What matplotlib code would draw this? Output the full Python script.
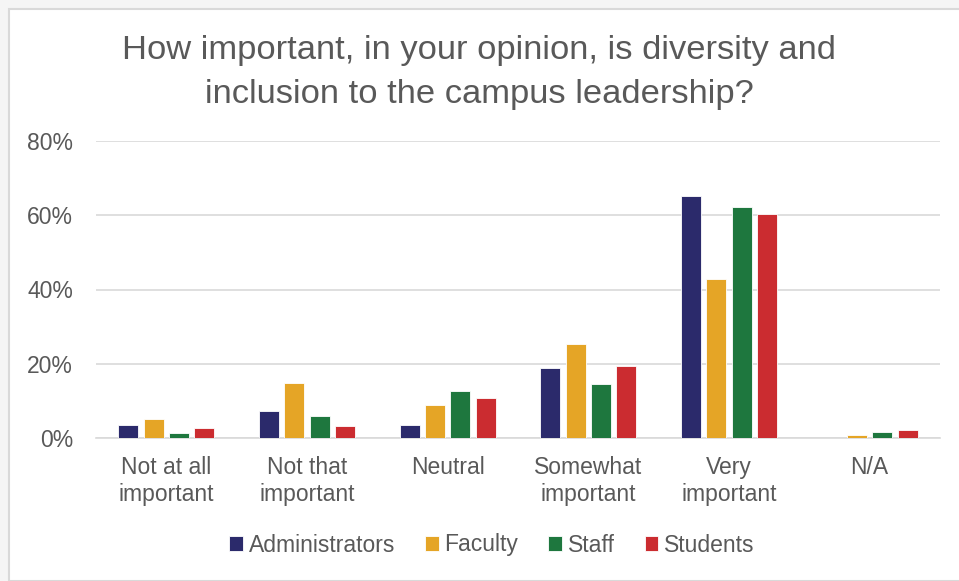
import matplotlib
matplotlib.use("Agg")
import matplotlib.pyplot as plt
import numpy as np
from matplotlib.patches import Rectangle

categories = ["Not at all\nimportant", "Not that\nimportant", "Neutral",
              "Somewhat\nimportant", "Very\nimportant", "N/A"]
series_names = ["Administrators", "Faculty", "Staff", "Students"]
administrators = [3.4, 7.4, 3.4, 18.8, 65.2, 0.0]
faculty = [5.2, 14.9, 8.8, 25.4, 42.8, 0.9]
staff = [1.3, 5.9, 12.7, 14.6, 62.3, 1.7]
students = [2.8, 3.1, 10.9, 19.3, 60.4, 2.1]
yticks = [0, 20, 40, 60, 80]
ytick_labels = ["0%", "20%", "40%", "60%", "80%"]
title = "How important, in your opinion, is diversity and\ninclusion to the campus leadership?"

colors = ["#2b2a6b", "#e5a526", "#1e773e", "#cb2c30"]
text_color = "#595959"
plt.rcParams["font.family"] = ["Liberation Sans", "DejaVu Sans"]

W, H = 959, 581
fig = plt.figure(figsize=(W / 100, H / 100), dpi=100)
fig.patch.set_facecolor("#f5f5f5")
# white chart area with light border
fig.patches.append(Rectangle((9 / W, 0), 1, 1 - 8.5 / H, transform=fig.transFigure,
                             facecolor="white", edgecolor="#d9d9d9", linewidth=1.5, zorder=-10))

ax = fig.add_axes([96 / W, 1 - 438 / H, (940 - 96) / W, (438 - 141) / H])
ax.set_facecolor("none")
x = np.arange(len(categories))
data = [administrators, faculty, staff, students]
step = 0.18
width = 0.142
for i, (vals, c, name) in enumerate(zip(data, colors, series_names)):
    ax.bar(x + (i - 1.5) * step, vals, width=width, color=c, label=name,
           edgecolor="white", linewidth=0.6, zorder=3)

ax.set_xlim(-0.5, len(categories) - 0.5)
ax.set_ylim(0, 80)
ax.set_yticks(yticks)
ax.set_yticklabels(ytick_labels)
ax.yaxis.grid(True, color="#d9d9d9", linewidth=1.2, zorder=0)
ax.set_axisbelow(True)
for s in ["top", "right", "left"]:
    ax.spines[s].set_visible(False)
ax.spines["bottom"].set_color("#d9d9d9")
ax.spines["bottom"].set_linewidth(1.2)
ax.tick_params(axis="y", length=0, pad=16.5, labelsize=16.5, labelcolor=text_color)
ax.tick_params(axis="x", length=0, pad=13, labelsize=16.5, labelcolor=text_color)
ax.set_xticks(x)
ax.set_xticklabels(categories, linespacing=1.2)

fig.text(0.5, 1 - 72.5 / H, title, ha="center", va="center", fontsize=24.8,
         color=text_color, linespacing=1.5)

leg = fig.legend(loc="center", bbox_to_anchor=(492 / W, 1 - 545 / H), ncol=4,
                 frameon=False, fontsize=16.5, handlelength=0.6, handleheight=0.6,
                 handletextpad=0.25, columnspacing=1.3)
for t in leg.get_texts():
    t.set_color(text_color)

fig.savefig("out.png", dpi=100, facecolor=fig.get_facecolor())
